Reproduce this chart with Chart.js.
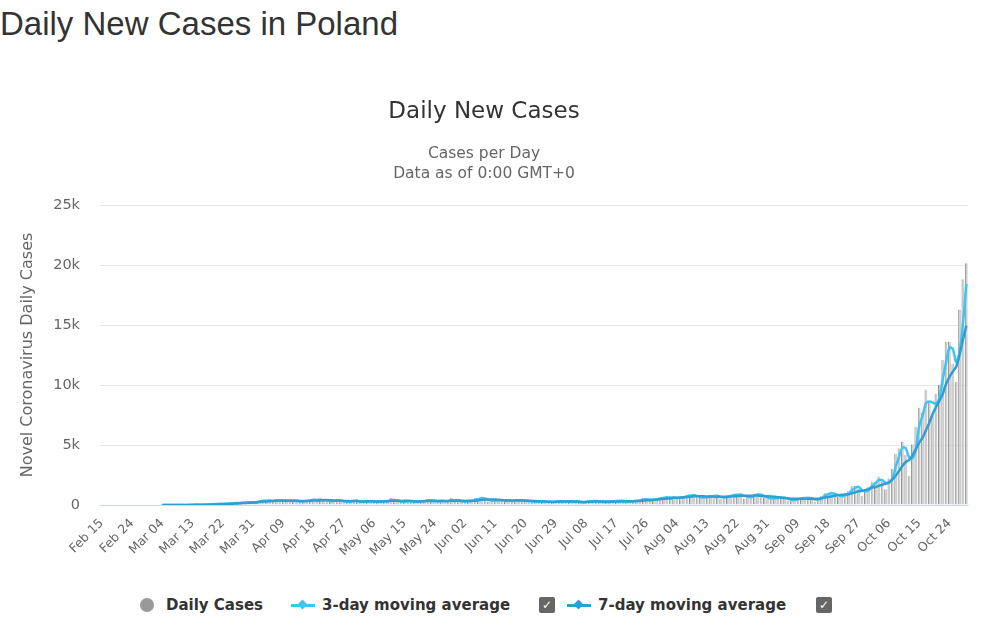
<!DOCTYPE html>
<html>
<head>
<meta charset="utf-8">
<script src="https://cdn.jsdelivr.net/npm/chart.js@4.4.1/dist/chart.umd.min.js"></script>
<style>
  body { margin: 0; background: #fff; width: 986px; height: 627px; position: relative; overflow: hidden; }
  h1 { position: absolute; left: 0; top: 5px; margin: 0; font: 33px "Liberation Sans", Arial, sans-serif; color: #333; }
  #chart { position: absolute; left: 0; top: 60px; }
  .legend { position: absolute; top: 596px; height: 18px; font: bold 15px "DejaVu Sans", sans-serif; color: #333; }
  .lg { position: absolute; top: 0; line-height: 18px; white-space: nowrap; }
  .dot { position: absolute; top: 2px; width: 14px; height: 14px; border-radius: 50%; background: #999; }
  .mk { position: absolute; top: 8px; width: 24px; height: 3px; }
  .mk i { position: absolute; left: 8px; top: -3px; width: 7px; height: 7px; transform: rotate(45deg); background: inherit; }
  .cb { position: absolute; top: 1px; width: 16px; height: 16px; border-radius: 2px; background: #666; color: #fff; font: bold 12px "DejaVu Sans", sans-serif; text-align: center; line-height: 16px; }
</style>
</head>
<body>
<h1>Daily New Cases in Poland</h1>
<canvas id="chart" width="986" height="530"></canvas>
<div class="legend">
  <span class="dot" style="left:140px"></span>
  <span class="lg" style="left:166px">Daily Cases</span>
  <span class="mk" style="left:291px;background:#3fc5f4"><i></i></span>
  <span class="lg" style="left:322px">3-day moving average</span>
  <span class="cb" style="left:539px">✓</span>
  <span class="mk" style="left:567px;background:#2d9fd3"><i></i></span>
  <span class="lg" style="left:598px">7-day moving average</span>
  <span class="cb" style="left:816px">✓</span>
</div>
<script>
// daily new cases, Feb 15 - Oct 29 2020
const febCases = [0,0,0,0,0,0,0,0,0,0,0,0,0,0,0];          // Feb 15-29
const marCases = [0,0,0,1,0,4,0,6,6,5,9,20,17,36,14,27,61,49,104,70,111,98,115,152,150,170,168,249,224,193,256];
const aprCases = [243,392,437,244,475,311,374,357,370,380,318,401,268,260,380,336,461,545,263,545,313,380,263,381,460,285,217,284,363,342];
const mayCases = [333,240,316,322,307,252,307,287,344,330,595,307,250,292,294,378,272,285,245,418,332,443,393,263,260,395,270,333,576,286,380];
const junCases = [230,292,361,356,576,575,599,407,282,395,442,311,440,407,314,305,506,371,302,378,301,193,306,304,305,218,280,263,267,371];
const julCases = [279,300,283,279,243,230,193,299,360,358,299,290,181,253,299,320,370,358,316,217,333,337,374,418,584,443,337,502,512,615,657];
const augCases = [658,548,680,512,680,726,809,843,829,599,587,680,639,832,753,726,543,588,804,811,903,832,887,548,597,819,887,900,755,582,550];
const sepCases = [507,597,624,651,568,376,377,506,552,601,595,598,481,286,600,757,1002,974,1002,760,670,746,975,1136,1587,1584,1350,757,1326,1552];
const octCases = [1967,1934,2367,1934,1306,2236,3003,4280,4739,5300,4178,2431,5068,6526,8099,7705,9622,8536,7482,9291,10040,12107,13632,13628,11742,10241,16300,18820,20156];

const dailyCases = [].concat(febCases, marCases, aprCases, mayCases, junCases, julCases, augCases, sepCases, octCases);
const firstCase = 18; // Mar 04, averages start here

const months = ['Jan','Feb','Mar','Apr','May','Jun','Jul','Aug','Sep','Oct','Nov','Dec'];
const dates = dailyCases.map((_, i) => {
  const d = new Date(Date.UTC(2020, 1, 15 + i));
  return months[d.getUTCMonth()] + ' ' + String(d.getUTCDate()).padStart(2, '0');
});

// moving averages of the daily series, same as the source site shows them
function movingAvg(n) {
  return dailyCases.map((v, i) => {
    if (i < firstCase) return null;
    let s = 0;
    for (let k = i - n + 1; k <= i; k++) s += dailyCases[k];
    return s / n;
  });
}
const avg3 = movingAvg(3);
const avg7 = movingAvg(7);

const yTicks = [0, 5000, 10000, 15000, 20000, 25000];
const font = 'DejaVu Sans';

new Chart(document.getElementById('chart'), {
  type: 'bar',
  data: {
    labels: dates,
    datasets: [
      { type: 'line', label: '3-day moving average', data: avg3, borderColor: '#3fc5f4', borderWidth: 2.5, pointRadius: 0, tension: 0.3, order: 1 },
      { type: 'line', label: '7-day moving average', data: avg7, borderColor: '#2d9fd3', borderWidth: 2.5, pointRadius: 0, tension: 0.3, order: 0 },
      { label: 'Daily Cases', data: dailyCases, backgroundColor: '#cfcfcf', borderColor: '#8f8f8f', borderWidth: { left: 1 }, barPercentage: 0.85, categoryPercentage: 1, order: 2 }
    ]
  },
  options: {
    responsive: false,
    animation: false,
    layout: { padding: { right: 18 } },
    plugins: {
      legend: { display: false },
      tooltip: { enabled: false },
      title: {
        display: true, text: 'Daily New Cases', color: '#333',
        font: { family: font, size: 23, weight: 'normal', lineHeight: 1.2 },
        padding: { top: 38, bottom: 18.4 }
      },
      subtitle: {
        display: true, text: ['Cases per Day', 'Data as of 0:00 GMT+0'], color: '#666',
        font: { family: font, size: 15.5, lineHeight: 20 / 15.5 },
        padding: { top: 0, bottom: 21 }
      }
    },
    scales: {
      x: {
        offset: true,
        grid: { display: false },
        border: { color: '#ccd6eb' },
        ticks: {
          autoSkip: false, maxRotation: 45, minRotation: 45, color: '#666',
          font: { family: font, size: 12.5 },
          callback: (v, i) => (i % 9 === 0 ? dates[i] : '')
        },
        afterFit: s => { s.height = 85; }
      },
      y: {
        min: 0, max: 25000,
        afterBuildTicks: s => { s.ticks = yTicks.map(v => ({ value: v })); },
        grid: { color: '#e6e6e6', drawTicks: false },
        border: { display: false },
        ticks: {
          color: '#666', padding: 20,
          font: { family: font, size: 14.5 },
          callback: v => (v === 0 ? '0' : v / 1000 + 'k')
        },
        title: {
          display: true, text: 'Novel Coronavirus Daily Cases', color: '#666',
          font: { family: font, size: 16 },
          padding: { top: 18 }
        },
        afterFit: s => { s.width = 100; }
      }
    }
  }
});
</script>
</body>
</html>
